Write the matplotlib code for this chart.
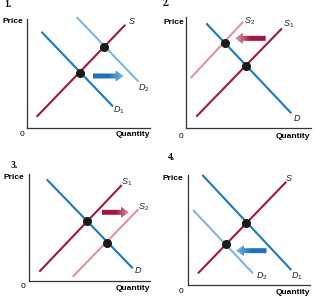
import matplotlib
matplotlib.use('Agg')
import matplotlib.pyplot as plt
import numpy as np
from matplotlib.colors import LinearSegmentedColormap
from matplotlib.patches import FancyArrowPatch

plt.rcParams['font.family'] = ['Liberation Sans', 'DejaVu Sans']
plt.rcParams['mathtext.fontset'] = 'custom'
plt.rcParams['mathtext.it'] = 'Liberation Sans:italic'
plt.rcParams['mathtext.rm'] = 'Liberation Sans'

RED = '#a3173f'
PINK = '#e2939b'
BLUE = '#1b78bd'
LBLUE = '#82b3df'

# curve end points per panel, in axis units (0..10)
p1_S = ([0.8, 8.0], [1.05, 9.5])
p1_D1 = ([1.2, 7.0], [8.85, 2.0])
p1_D2 = ([4.05, 9.05], [10.2, 4.3])
p1_eq = ([4.32, 6.29], [5.10, 7.49])
p1_arrow = ([5.35, 7.85], [4.8, 4.8])

p2_S1 = ([0.8, 7.65], [1.05, 8.95])
p2_S2 = ([0.35, 4.55], [4.5, 9.55])
p2_D = ([1.6, 8.4], [9.4, 1.35])
p2_eq = ([3.07, 4.75], [7.62, 5.58])
p2_arrow = ([6.35, 3.9], [8.06, 8.06])

p3_S1 = ([0.83, 7.66], [0.87, 8.97])
p3_S2 = ([3.6, 9.03], [0.4, 6.7])
p3_D = ([1.44, 8.57], [9.5, 1.19])
p3_eq = ([4.81, 6.46], [5.61, 3.58])
p3_arrow = ([6.0, 8.25], [6.42, 6.42])

p4_S = ([0.82, 8.08], [1.06, 9.39])
p4_D1 = ([1.18, 8.49], [10.0, 1.36])
p4_D2 = ([0.41, 5.34], [6.82, 1.06])
p4_eq = ([4.79, 3.1], [5.61, 3.7])
p4_arrow = ([6.45, 3.95], [3.12, 3.12])

W, H = 318, 302
fig = plt.figure(figsize=(W / 100, H / 100), dpi=100)


def make_axes(ox, oy, w, h):
    ax = fig.add_axes([ox / W, 1 - oy / H, w / W, h / H])
    for s in ['top', 'right']:
        ax.spines[s].set_visible(False)
    for s in ['left', 'bottom']:
        ax.spines[s].set_color('#333333')
        ax.spines[s].set_linewidth(0.9)
    ax.set_xticks([])
    ax.set_yticks([])
    ax.patch.set_alpha(0)
    return ax


def ftext(x, y, s, **kw):
    fig.text(x / W, 1 - y / H, s, **kw)


def line(ax, xy, color):
    ax.plot(xy[0], xy[1], color=color, lw=1.5, solid_capstyle='butt', clip_on=False)


def dots(ax, xy):
    ax.plot(xy[0], xy[1], 'o', color='#1a1a1a', ms=5.5, zorder=5, clip_on=False)


def arrow(ax, xy, c0, c1):
    (x0, x1), (y0, y1) = xy
    patch = FancyArrowPatch((x0, y0), (x1, y1),
                            arrowstyle='simple,head_length=0.7,head_width=1.0,tail_width=0.45',
                            mutation_scale=8, shrinkA=0, shrinkB=0,
                            facecolor='none', edgecolor='none', zorder=3)
    ax.add_patch(patch)
    cmap = LinearSegmentedColormap.from_list('g', [c0, c0, c1])
    grad = np.linspace(0, 1, 200).reshape(1, -1)
    im = ax.imshow(grad, cmap=cmap, extent=(x0, x1, y0 - 0.8, y0 + 0.8),
                   aspect='auto', zorder=4, interpolation='bilinear')
    im.set_clip_path(patch)


def label(ax, x, y, s):
    ax.text(x, y, s, fontsize=6.5, ha='center', va='center', color='#222222', clip_on=False)


def frame(ax, num, num_xy, price_xy, zero_xy, qty_xy):
    ax.set_xlim(0, 10)
    ax.set_ylim(0, 10)
    ftext(*num_xy, num, fontsize=7, fontweight='bold', family='Liberation Serif',
          ha='center', va='center')
    ftext(*price_xy, 'Price', fontsize=6, fontweight='bold', ha='center', va='center')
    ftext(*zero_xy, '0', fontsize=6, ha='center', va='center')
    ftext(*qty_xy, 'Quantity', fontsize=6, fontweight='bold', ha='right', va='center')


# panel 1
ax = make_axes(26.7, 128.3, 123.3, 109)
line(ax, p1_D2, LBLUE)
line(ax, p1_D1, BLUE)
line(ax, p1_S, RED)
dots(ax, p1_eq)
arrow(ax, p1_arrow, '#1f72b8', '#7ab8e8')
label(ax, 8.5, 9.8, '$S$')
label(ax, 9.5, 3.65, '$D_{\\mathrm{2}}$')
label(ax, 7.45, 1.65, '$D_{\\mathrm{1}}$')
frame(ax, '1.', (8, 4.5), (13, 21.5), (21.7, 135), (150, 135))

# panel 2
ax = make_axes(186.3, 128.3, 125, 111.6)
line(ax, p2_S2, PINK)
line(ax, p2_S1, RED)
line(ax, p2_D, BLUE)
dots(ax, p2_eq)
arrow(ax, p2_arrow, '#a3173f', '#e3a2ad')
label(ax, 5.1, 9.6, '$S_{\\mathrm{2}}$')
label(ax, 8.2, 9.35, '$S_{\\mathrm{1}}$')
label(ax, 8.9, 0.9, '$D$')
frame(ax, '2.', (166.5, 4), (173.5, 22.7), (180.7, 136), (309.7, 136))

# panel 3
ax = make_axes(29.3, 281, 120.7, 107)
line(ax, p3_S2, PINK)
line(ax, p3_S1, RED)
line(ax, p3_D, BLUE)
dots(ax, p3_eq)
arrow(ax, p3_arrow, '#a3173f', '#e3a2ad')
label(ax, 8.05, 9.2, '$S_{\\mathrm{1}}$')
label(ax, 9.45, 6.9, '$S_{\\mathrm{2}}$')
label(ax, 9.05, 1.0, '$D$')
frame(ax, '3.', (14.5, 165), (14, 177.7), (22.7, 286.7), (150, 288))

# panel 4
ax = make_axes(188, 285, 121.7, 110)
line(ax, p4_D2, LBLUE)
line(ax, p4_D1, BLUE)
line(ax, p4_S, RED)
dots(ax, p4_eq)
arrow(ax, p4_arrow, '#1f72b8', '#7ab8e8')
label(ax, 8.3, 9.7, '$S$')
label(ax, 8.95, 0.8, '$D_{\\mathrm{1}}$')
label(ax, 6.05, 0.8, '$D_{\\mathrm{2}}$')
frame(ax, '4.', (171, 157), (173, 179), (180.7, 291.7), (309.7, 293))

fig.savefig('out.png', dpi=100)
